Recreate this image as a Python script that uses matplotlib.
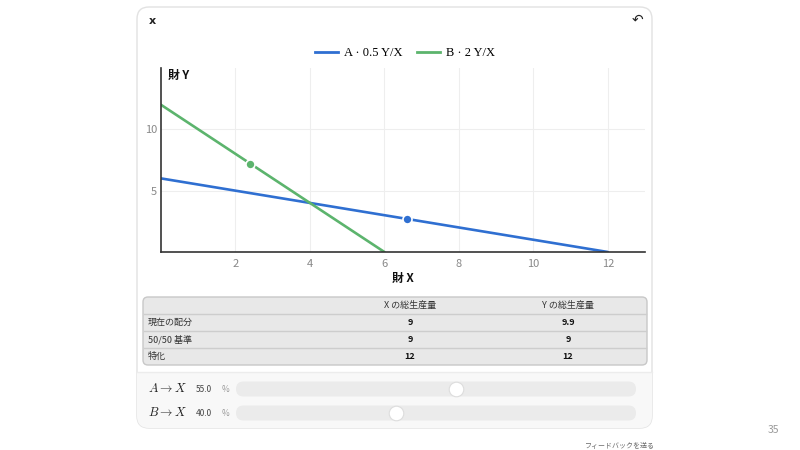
import matplotlib.pyplot as plt
from matplotlib.patches import FancyBboxPatch, Rectangle
from matplotlib.lines import Line2D

plt.rcParams['font.family'] = ['Noto Sans CJK JP', 'DejaVu Sans']
plt.rcParams['mathtext.fontset'] = 'cm'

# Data
a_x = [0, 12]
a_y = [6, 0]
b_x = [0, 6]
b_y = [12, 0]
a_point = (6.6, 2.7)
b_point = (2.4, 7.2)
legend_labels = ['A · 0.5 Y/X', 'B · 2 Y/X']
x_ticks = [2, 4, 6, 8, 10, 12]
y_ticks = [5, 10]

col_headers = ['', 'X の総生産量', 'Y の総生産量']
row_labels = ['現在の配分', '50/50 基準', '特化']
x_totals = ['9', '9', '12']
y_totals = ['9.9', '9', '12']

slider_labels = [r'$A \rightarrow X$', r'$B \rightarrow X$']
slider_values = [55.0, 40.0]

blue = '#2f6fd1'
green = '#5cb46d'

fig = plt.figure(figsize=(8, 4.5), dpi=100)

# background layer in pixel coordinates
bg = fig.add_axes([0, 0, 1, 1])
bg.set_xlim(0, 800)
bg.set_ylim(450, 0)
bg.axis('off')
bg.set_zorder(0)

card = FancyBboxPatch((137, 7), 515, 421, boxstyle='round,pad=0,rounding_size=12',
                      facecolor='white', edgecolor='#e2e2e2', linewidth=1)
bg.add_patch(card)
lower = Rectangle((137, 372), 515, 60, facecolor='#f8f8f8', edgecolor='none')
bg.add_patch(lower)
lower.set_clip_path(card)
bg.plot([137, 652], [372, 372], color='#ececec', linewidth=1)

bg.text(152, 21, 'x', fontsize=8, fontweight='bold', ha='center', va='center', color='#222222',
        family=['DejaVu Sans'])
bg.text(637, 20, '↶', fontsize=10, ha='center', va='center', color='#222222',
        family=['DejaVu Sans'])

# table
table = FancyBboxPatch((143, 297), 504, 68, boxstyle='round,pad=0,rounding_size=5',
                       facecolor='#e8e8e8', edgecolor='#c8c8c8', linewidth=1)
bg.add_patch(table)
row_tops = [297, 314, 331, 348]
for y in row_tops[1:]:
    bg.plot([144, 646], [y, y], color='#cdcdcd', linewidth=1)
col_x = [148, 410, 568]
hy = (row_tops[0] + row_tops[1]) / 2
for i, h in enumerate(col_headers):
    bg.text(col_x[i], hy, h, fontsize=6.5, ha='left' if i == 0 else 'center',
            va='center', color='#333333')
for r in range(len(row_labels)):
    cy = row_tops[r + 1] + 8.5
    bg.text(col_x[0], cy, row_labels[r], fontsize=6.5, ha='left', va='center', color='#333333')
    bg.text(col_x[1], cy, x_totals[r], fontsize=6.5, ha='center', va='center',
            fontweight='bold', color='#111111')
    bg.text(col_x[2], cy, y_totals[r], fontsize=6.5, ha='center', va='center',
            fontweight='bold', color='#111111')

# sliders
track_x0, track_x1 = 236, 636
slider_y = [389, 413]
for lab, val, sy in zip(slider_labels, slider_values, slider_y):
    bg.text(148, sy, lab, fontsize=9, ha='left', va='center', color='#222222')
    bg.text(196, sy, f'{val:.1f}', fontsize=6, ha='left', va='center', color='#444444')
    bg.text(222, sy, '%', fontsize=6, ha='left', va='center', color='#999999')
    track = FancyBboxPatch((track_x0, sy - 7.5), track_x1 - track_x0, 15,
                           boxstyle='round,pad=0,rounding_size=7.5',
                           facecolor='#ebebeb', edgecolor='none')
    bg.add_patch(track)
    tx = track_x0 + (track_x1 - track_x0) * val / 100
    bg.scatter([tx], [sy], s=110, color='white', edgecolors='#dddddd', linewidths=0.8, zorder=5)

bg.text(773, 430, '35', fontsize=7.5, ha='center', va='center', color='#9a9a9a')
bg.text(620, 446, 'フィードバックを送る', fontsize=5, ha='center', va='center', color='#666666')

# chart
ax = fig.add_axes([161 / 800, 1 - 252 / 450, (645 - 161) / 800, (252 - 68) / 450])
ax.set_zorder(1)
ax.patch.set_alpha(0)
ax.plot(a_x, a_y, color=blue, linewidth=1.9, solid_capstyle='round')
ax.plot(b_x, b_y, color=green, linewidth=1.9, solid_capstyle='round')
ax.plot([a_point[0]], [a_point[1]], 'o', color=blue, markersize=6.5,
        markeredgecolor='white', markeredgewidth=1.2, zorder=5)
ax.plot([b_point[0]], [b_point[1]], 'o', color=green, markersize=6.5,
        markeredgecolor='white', markeredgewidth=1.2, zorder=5)
ax.set_xlim(0, 13)
ax.set_ylim(0, 15)
ax.set_xticks(x_ticks)
ax.set_yticks(y_ticks)
ax.tick_params(length=0, labelsize=8, labelcolor='#888888')
ax.tick_params(axis='x', pad=5)
ax.tick_params(axis='y', pad=3)
ax.grid(True, color='#eeeeee', linewidth=0.8)
ax.set_axisbelow(True)
for s in ['top', 'right']:
    ax.spines[s].set_visible(False)
for s in ['left', 'bottom']:
    ax.spines[s].set_color('#333333')
    ax.spines[s].set_linewidth(1.2)
ax.set_xlabel('財 X', fontsize=8.5, fontweight='bold', color='#111111', labelpad=2)
ax.text(0.015, 0.96, '財 Y', transform=ax.transAxes, fontsize=8.5, fontweight='bold',
        ha='left', va='center', color='#111111')

handles = [Line2D([], [], color=blue, linewidth=2), Line2D([], [], color=green, linewidth=2)]
fig.legend(handles, legend_labels, loc='center', bbox_to_anchor=(405 / 800, 1 - 53 / 450),
           ncol=2, frameon=False, handlelength=1.8, columnspacing=1.2, handletextpad=0.5,
           prop={'family': 'Liberation Serif', 'size': 9})

fig.savefig('out.png', dpi=100)
